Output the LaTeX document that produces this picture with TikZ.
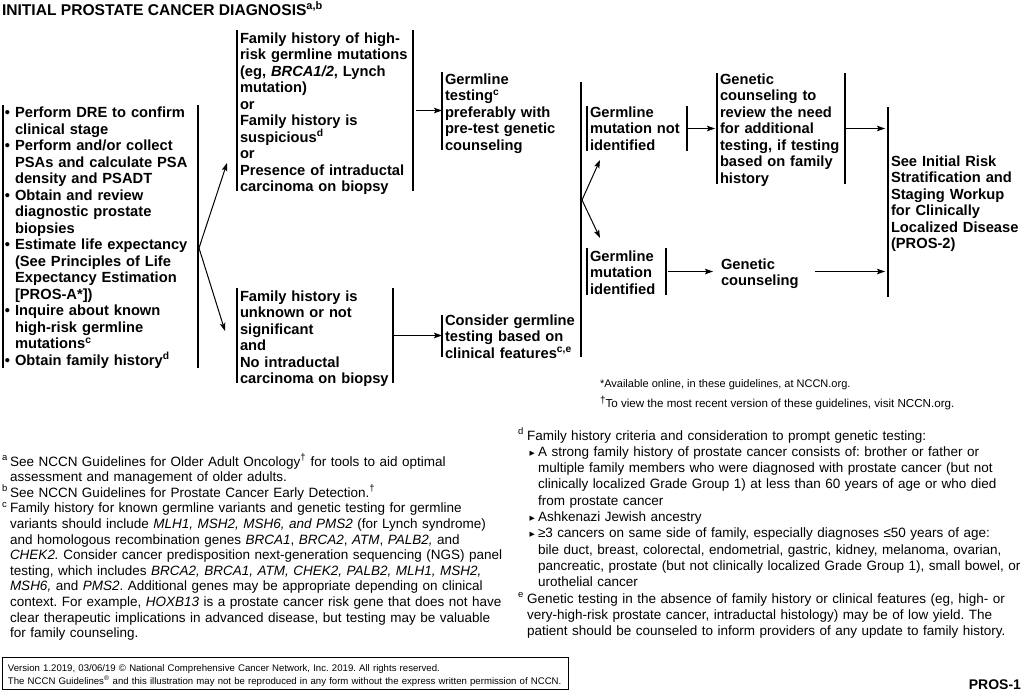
\documentclass[tikz,border=0pt]{standalone}
\usepackage{fontspec}
\setmainfont{Liberation Sans}
\newfontfamily\dejavu{DejaVu Sans}
\usetikzlibrary{arrows.meta}
\frenchspacing
\newcommand{\bi}{\hphantom{• }}
\newcommand{\fnmark}[1]{\makebox[8pt][l]{\textsuperscript{#1}}}
\newcommand{\fnind}{\hspace*{8pt}}
\newcommand{\dmark}[1]{\makebox[9pt][l]{\textsuperscript{#1}}}
\newcommand{\tri}{\hspace*{2.5pt}\makebox[8.5pt][l]{\raisebox{1pt}{\dejavu\fontsize{6.8}{6.8}\selectfont ▶}}}
\newcommand{\dind}{\hspace*{20pt}}
\newcommand{\eind}{\hspace*{9pt}}
\begin{document}
\begin{tikzpicture}[x=1pt,y=-1pt,
  every node/.style={inner sep=0pt,outer sep=0pt},
  main/.style={font=\bfseries\fontsize{14.7}{16.5}\selectfont,anchor=base west,text width=#1,align=left},
  main/.default=220pt,
  fn/.style={font=\frenchspacing\fontsize{13.5}{15.6}\selectfont,anchor=base west,text width=520pt,align=left},
  fnr/.style={font=\frenchspacing\fontsize{13.5}{16.3}\selectfont,anchor=base west,text width=520pt,align=left},
  frame/.style={anchor=north west,rectangle,draw=none},
  bar/.style={line width=1.4pt},
  arr/.style={line width=1pt,-{Stealth[length=8pt,width=5.5pt,inset=1.5pt]}}]
\useasboundingbox (0,0) rectangle (1024,691);

% title
\node[font=\bfseries\fontsize{15.6}{15.6}\selectfont,anchor=base west] (title) at (2,15) {INITIAL PROSTATE CANCER DIAGNOSIS\textsuperscript{a,b}};

% frames (box outlines given by bars)
\node[frame,minimum width=195pt,minimum height=263pt] (B1) at (3,105) {};
\node[frame,minimum width=176pt,minimum height=161pt] (B2) at (237,30) {};
\node[frame,minimum width=156pt,minimum height=95pt] (B3) at (237,288) {};
\node[frame,minimum width=139pt,minimum height=78pt] (B4) at (442,72) {};
\node[frame,minimum width=139pt,minimum height=42pt] (B5) at (442,315) {};
\node[frame,minimum width=100pt,minimum height=45pt] (B6) at (587,106) {};
\node[frame,minimum width=79pt,minimum height=47pt] (B7) at (587,248) {};
\node[frame,minimum width=128pt,minimum height=111pt] (B8) at (717,73) {};
\node[frame,minimum width=132pt,minimum height=190pt] (B10) at (888,107) {};

\draw[bar] (B1.north west) -- (B1.south west) (B1.north east) -- (B1.south east);
\draw[bar] (B2.north west) -- (B2.south west) (B2.north east) -- (B2.south east);
\draw[bar] (B3.north west) -- (B3.south west) (B3.north east) -- (B3.south east);
\draw[bar] (B4.north west) -- (B4.south west);
\draw[bar] (B5.north west) -- (B5.south west);
\coordinate (gtop) at (581,82);
\draw[bar] (gtop) -- (B5.south east);
\draw[bar] (B6.north west) -- (B6.south west) (B6.north east) -- (B6.south east);
\draw[bar] (B7.north west) -- (B7.south west) (B7.north east) -- (B7.south east);
\draw[bar] (B8.north west) -- (B8.south west) (B8.north east) -- (B8.south east);
\draw[bar] (B10.north west) -- (B10.south west);

% texts
\node[main] (T1) at (5,117.5) {• Perform DRE to confirm\\
\bi clinical stage\\
• Perform and/or collect\\
\bi PSAs and calculate PSA\\
\bi density and PSADT\\
• Obtain and review\\
\bi diagnostic prostate\\
\bi biopsies\\
• Estimate life expectancy\\
\bi (See Principles of Life\\
\bi Expectancy Estimation\\
\bi [PROS-A*])\\
• Inquire about known\\
\bi high-risk germline\\
\bi mutations\textsuperscript{c}\\
• Obtain family history\textsuperscript{d}};

\node[main] (T2) at (240,43) {Family history of high-\\
risk germline mutations\\
(eg, \textit{BRCA1/2}, Lynch\\
mutation)\\
or\\
Family history is\\
suspicious\textsuperscript{d}\\
or\\
Presence of intraductal\\
carcinoma on biopsy};

\node[main] (T3) at (240,301) {Family history is\\
unknown or not\\
significant\\
and\\
No intraductal\\
carcinoma on biopsy};

\node[main] (T4) at (445,84) {Germline\\
testing\textsuperscript{c}\\
preferably with\\
pre-test genetic\\
counseling};

\node[main] (T5) at (445,325) {Consider germline\\
testing based on\\
clinical features\textsuperscript{c,e}};

\node[main] (T6) at (590,117) {Germline\\mutation not\\identified};
\node[main] (T7) at (590,261) {Germline\\mutation\\identified};
\node[main] (T8) at (720,84) {Genetic\\
counseling to\\
review the need\\
for additional\\
testing, if testing\\
based on family\\
history};
\node[main=90pt] (B9) at (721,269) {Genetic\\counseling};
\node[main] (T10) at (891,166) {See Initial Risk\\
Stratification and\\
Staging Workup\\
for Clinically\\
Localized Disease\\
(PROS-2)};

% connectors
\coordinate (fk1) at (199,248);
\coordinate (up1) at (227,163);
\coordinate (dn1) at (225,331);
\draw[arr] (fk1) -- (up1);
\draw[arr] (fk1) -- (dn1);
\draw[arr,shorten <=3pt] (B2.east) -- (B2.east -| B4.west);
\draw[arr] (B3.east) -- (B3.east -| B5.west);
\coordinate (fk2) at (582,200);
\coordinate (up2) at (600,160);
\coordinate (dn2) at (600,238);
\draw[arr] (fk2) -- (up2);
\draw[arr] (fk2) -- (dn2);
\draw[arr,shorten >=2pt] (B6.east) -- (B6.east -| B8.west);
\draw[arr,shorten <=2pt,shorten >=8pt] (B7.east) -- (B7.east -| B9.west);
\draw[arr,shorten >=3pt] (B8.east) -- (B8.east -| B10.west);
\draw[arr,shorten <=4pt,shorten >=3pt] (B9.east |- B7.east) -- (B7.east -| B10.west);

% small notes
\node[font=\fontsize{11}{13}\selectfont,anchor=base west] (n1) at (600,387) {*Available online, in these guidelines, at NCCN.org.};
\node[font=\fontsize{11.6}{13}\selectfont,anchor=base west] (n2) at (600,407) {\raisebox{3.5pt}{\fontsize{10}{10}\selectfont †}To view the most recent version of these guidelines, visit NCCN.org.};

% footnotes left
\node[fn] (FL) at (2,466) {\fnmark{a}See NCCN Guidelines for Older Adult Oncology\textsuperscript{†} for tools to aid optimal\\
\fnind assessment and management of older adults.\\
\fnmark{b}See NCCN Guidelines for Prostate Cancer Early Detection.\textsuperscript{†}\\
\fnmark{c}Family history for known germline variants and genetic testing for germline\\
\fnind variants should include \textit{MLH1, MSH2, MSH6, and PMS2} (for Lynch syndrome)\\
\fnind and homologous recombination genes \textit{BRCA1}, \textit{BRCA2}, \textit{ATM}, \textit{PALB2,} and\\
\fnind \textit{CHEK2.} Consider cancer predisposition next-generation sequencing (NGS) panel\\
\fnind testing, which includes \textit{BRCA2, BRCA1, ATM, CHEK2, PALB2, MLH1, MSH2,}\\
\fnind \textit{MSH6,} and \textit{PMS2}. Additional genes may be appropriate depending on clinical\\
\fnind context. For example, \textit{HOXB13} is a prostate cancer risk gene that does not have\\
\fnind clear therapeutic implications in advanced disease, but testing may be valuable\\
\fnind for family counseling.};

% footnotes right
\node[fnr] (FR) at (518,440) {\dmark{d}Family history criteria and consideration to prompt genetic testing:\\
\eind\tri A strong family history of prostate cancer consists of: brother or father or\\
\dind multiple family members who were diagnosed with prostate cancer (but not\\
\dind clinically localized Grade Group 1) at less than 60 years of age or who died\\
\dind from prostate cancer\\
\eind\tri Ashkenazi Jewish ancestry\\
\eind\tri ≥3 cancers on same side of family, especially diagnoses ≤50 years of age:\\
\dind bile duct, breast, colorectal, endometrial, gastric, kidney, melanoma, ovarian,\\
\dind pancreatic, prostate (but not clinically localized Grade Group 1), small bowel, or\\
\dind urothelial cancer\\
\dmark{e}Genetic testing in the absence of family history or clinical features (eg, high- or\\
\eind very-high-risk prostate cancer, intraductal histology) may be of low yield. The\\
\eind patient should be counseled to inform providers of any update to family history.};

% footer
\node[frame,draw,line width=1pt,minimum width=566pt,minimum height=32pt] (foot) at (2,657) {};
\node[font=\frenchspacing\fontsize{9.6}{13}\selectfont,anchor=base west,text width=560pt,align=left] (ftxt) at (8,671) {Version 1.2019, 03/06/19 © National Comprehensive Cancer Network, Inc. 2019. All rights reserved.\\
The NCCN Guidelines\textsuperscript{®} and this illustration may not be reproduced in any form without the express written permission of NCCN.};
\node[font=\bfseries\fontsize{14}{14}\selectfont,anchor=base east] (pg) at (1021,689) {PROS-1};
\end{tikzpicture}
\end{document}
